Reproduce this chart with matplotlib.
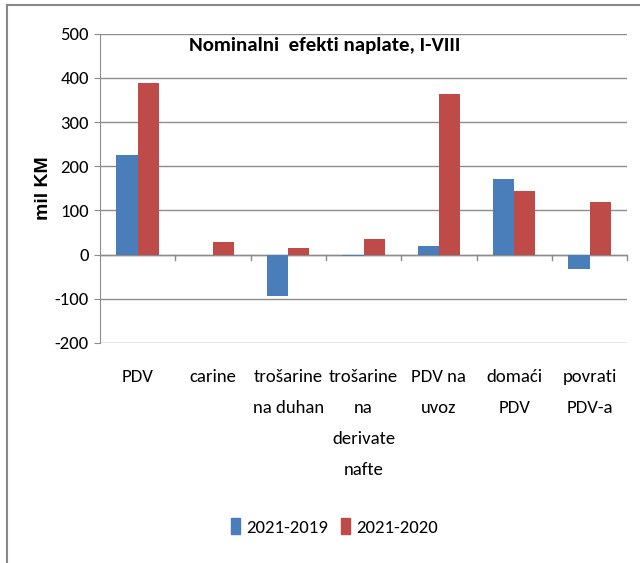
import numpy as np
import matplotlib.pyplot as plt
from matplotlib.lines import Line2D
from matplotlib.patches import Patch

plt.rcParams['font.family'] = ['Carlito', 'DejaVu Sans']
plt.rcParams['axes.unicode_minus'] = False

categories = ['PDV', 'carine', 'trošarine\nna duhan', 'trošarine\nna\nderivate\nnafte',
              'PDV na\nuvoz', 'domaći\nPDV', 'povrati\nPDV-a']
vals_2019 = [226, 0, -93, -3, 20, 172, -32]
vals_2020 = [389, 29, 15, 36, 364, 145, 118]
series_names = ['2021-2019', '2021-2020']

blue = '#4a7ebb'
red = '#be4b48'
grey = '#8c8c8c'

fig = plt.figure(figsize=(6.4, 5.63), dpi=100)
ax = fig.add_axes([0.156, 0.391, 0.824, 0.549])

x = np.arange(len(categories))
w = 0.28
ax.bar(x - w/2, vals_2019, w, color=blue, zorder=3)
ax.bar(x + w/2, vals_2020, w, color=red, zorder=3)

ax.set_xlim(-0.5, len(categories) - 0.5)
ax.set_ylim(-200, 500)
ax.set_yticks(np.arange(-200, 501, 100))
ax.yaxis.grid(True, color=grey, linewidth=1.0, zorder=0)
ax.tick_params(axis='y', labelsize=13.5, length=4, color=grey, pad=4)
for s in ['top', 'right', 'bottom']:
    ax.spines[s].set_visible(False)
ax.spines['left'].set_color(grey)

# category axis sits on zero, labels go below the plot area
ax.axhline(0, color=grey, linewidth=1.0, zorder=2)
ax.set_xticks([])
for b in np.arange(0.5, len(categories), 1.0):
    ax.plot([b, b], [0, -12], color=grey, linewidth=1.0, zorder=2, clip_on=False)
for i, c in enumerate(categories):
    ax.text(i, -260, c, ha='center', va='top', fontsize=13.5, linespacing=2.15)

ax.set_ylabel('mil KM', fontsize=14, fontweight='bold', family=['Liberation Sans'], labelpad=2)

fig.text(0.508, 0.919, 'Nominalni  efekti naplate, I-VIII', ha='center', va='center',
         fontsize=15, fontweight='bold')

handles = [Patch(color=blue), Patch(color=red)]
fig.legend(handles, series_names, loc='center', bbox_to_anchor=(0.522, 0.064), ncol=2,
           frameon=False, fontsize=13.5, handlelength=0.5, handleheight=0.9,
           handletextpad=0.3, columnspacing=0.7)

# outer frame lines of the screenshot
fig.add_artist(Line2D([0.011, 0.011], [0, 0.992], color='#888888', linewidth=1.5))
fig.add_artist(Line2D([0.011, 1.0], [0.992, 0.992], color='#888888', linewidth=1.5))

fig.savefig('out.png', dpi=100)
